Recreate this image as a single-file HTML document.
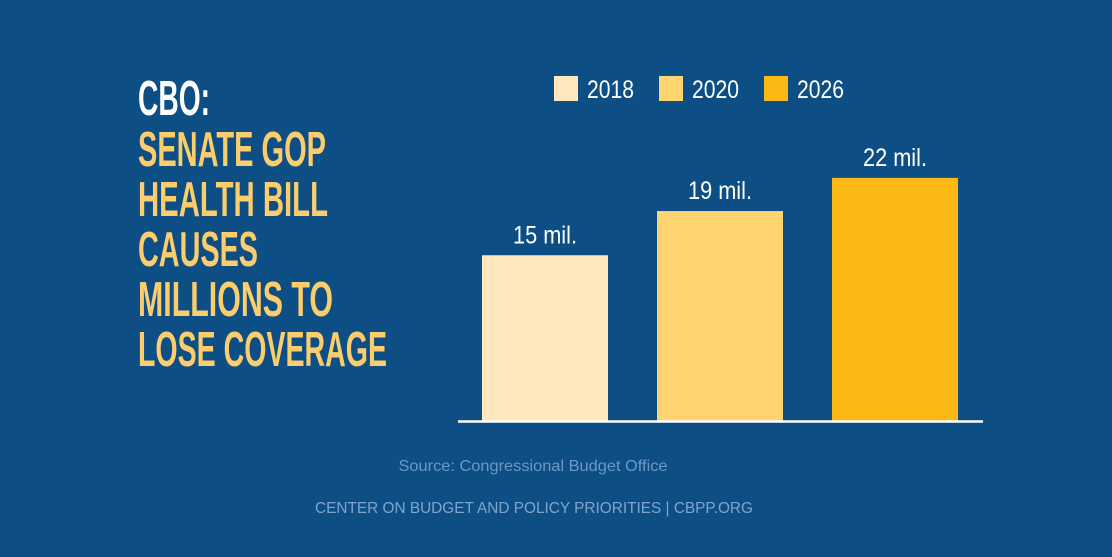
<!DOCTYPE html>
<html><head><meta charset="utf-8"><style>
body{margin:0;background:#0d4f85;}
svg{display:block}
</style></head><body>
<svg width="1112" height="557" viewBox="0 0 1112 557">
<rect width="1112" height="557" fill="#0d4f85"/>
<g font-family="'Liberation Sans Narrow','Liberation Sans',sans-serif" font-weight="bold" font-size="49">
<text x="138" y="115" fill="#ffffff" textLength="72" lengthAdjust="spacingAndGlyphs">CBO:</text>
<text x="138" y="166" fill="#fccd6c" textLength="188" lengthAdjust="spacingAndGlyphs">SENATE GOP</text>
<text x="138" y="216" fill="#fccd6c" textLength="190" lengthAdjust="spacingAndGlyphs">HEALTH BILL</text>
<text x="138" y="266" fill="#fccd6c" textLength="120" lengthAdjust="spacingAndGlyphs">CAUSES</text>
<text x="138" y="316" fill="#fccd6c" textLength="195" lengthAdjust="spacingAndGlyphs">MILLIONS TO</text>
<text x="138" y="366" fill="#fccd6c" textLength="249" lengthAdjust="spacingAndGlyphs">LOSE COVERAGE</text>
</g>
<g id="chart"></g>
<line x1="458" y1="421.5" x2="983" y2="421.5" stroke="#ffffff" stroke-width="2.5"/>
<text x="533" y="471" text-anchor="middle" font-family="'Liberation Sans',sans-serif" font-size="16" fill="#6a98c8" textLength="269" lengthAdjust="spacingAndGlyphs">Source: Congressional Budget Office</text>
<text x="534" y="513" text-anchor="middle" font-family="'Liberation Sans',sans-serif" font-size="15.5" fill="#7fa5cf" textLength="438" lengthAdjust="spacingAndGlyphs">CENTER ON BUDGET AND POLICY PRIORITIES | CBPP.ORG</text>
</svg>
<script>
const categories = ["2018","2020","2026"];
const values = [15,19,22];
const valueLabels = ["15 mil.","19 mil.","22 mil."];
const colors = ["#fde9bc","#fdd470","#fdb913"];
const NS="http://www.w3.org/2000/svg";
const g=document.getElementById('chart');
const baseY=421, pxPer=11.05, barW=126;
function xPos(i){return 482+i*175;}
function yPos(v){return baseY-v*pxPer;}
function mk(tag,attrs){const e=document.createElementNS(NS,tag);for(const k in attrs)e.setAttribute(k,attrs[k]);g.appendChild(e);return e;}
categories.forEach((c,i)=>{
  const r=mk('rect',{x:xPos(i),y:yPos(values[i]),width:barW,height:baseY-yPos(values[i]),fill:colors[i]});
  
  
  const t=mk('text',{x:xPos(i)+barW/2,y:yPos(values[i])-12,'text-anchor':'middle','font-family':"'Liberation Sans',sans-serif",'font-size':'25',fill:'#ffffff',textLength:'64',lengthAdjust:'spacingAndGlyphs'});
  t.textContent=valueLabels[i];
  
  
  const lx=554+i*105;
  const s=mk('rect',{x:lx,y:76,width:24,height:25,fill:colors[i]});
  
  
  const lt=mk('text',{x:lx+33,y:98,'font-family':"'Liberation Sans',sans-serif",'font-size':'25',fill:'#ffffff',textLength:'47',lengthAdjust:'spacingAndGlyphs'});
  lt.textContent=c;
  
  
});
</script>
</body></html>
